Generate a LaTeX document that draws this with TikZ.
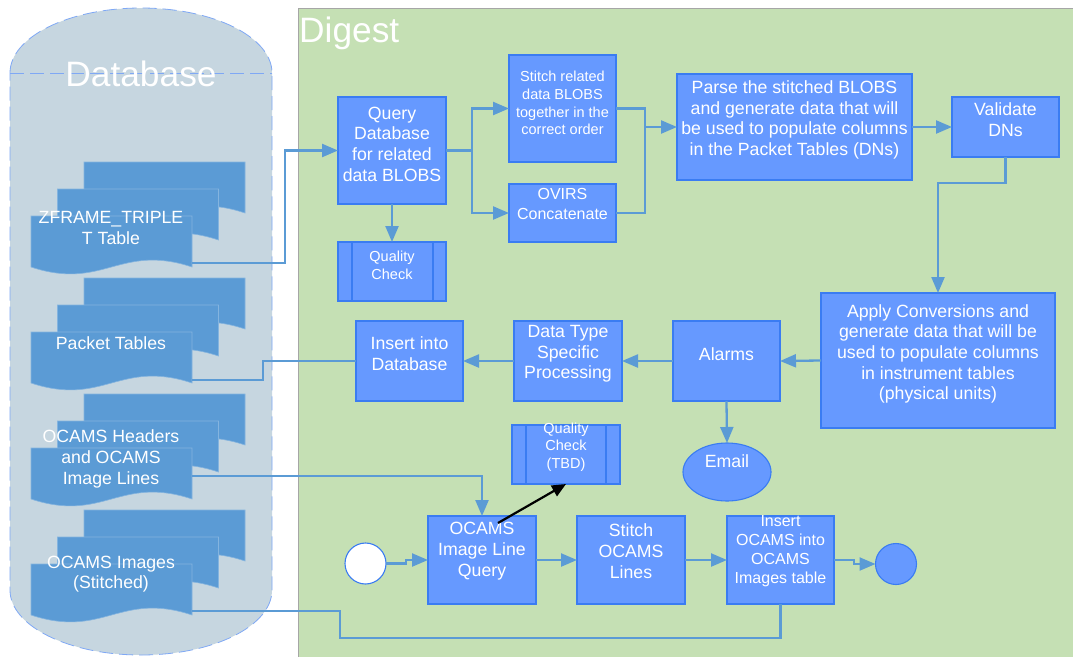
\documentclass[tikz,border=0pt]{standalone}
\usepackage{fontspec}
\setmainfont{Liberation Sans}
\usetikzlibrary{arrows.meta,shapes.geometric,calc}
\definecolor{panelgreen}{HTML}{C5E0B4}
\definecolor{dbfill}{HTML}{C6D6E0}
\definecolor{dbedge}{HTML}{7FA8F5}
\definecolor{docfill}{HTML}{5B9BD5}
\definecolor{boxfill}{HTML}{6699FF}
\definecolor{boxedge}{HTML}{3A7CF2}
\definecolor{conncol}{HTML}{5B9BD5}
\newcommand\myfA{\fontsize{17.7}{20.7}\selectfont}
\newcommand\myfB{\fontsize{16}{19.2}\selectfont}
\newcommand\myfC{\fontsize{14.5}{17.7}\selectfont}
\newcommand\myfT{\fontsize{35.3}{40}\selectfont}
\newcommand\mydoc[2]{\filldraw[docshape] (#1,#2) -- ++(161,0) -- ++(0,51) .. controls +(-72.5,-24) and +(72.5,24) .. ++(-161,0) -- cycle;}
\newcommand\mydocs[2]{\mydoc{#1+53}{#2-54}\mydoc{#1+26.5}{#2-27}\mydoc{#1}{#2}}
\begin{document}
\begin{tikzpicture}[x=1pt,y=-1pt,
  box/.style={draw=boxedge, fill=boxfill, line width=1.1pt, anchor=north west, inner sep=0pt, outer sep=0pt},
  txt/.style={text=white, align=center, inner sep=0pt},
  conn/.style={draw=conncol, line width=2.3pt},
  arr/.style={-{Triangle[length=16pt,width=13pt]}},
  docshape/.style={fill=docfill, draw=docfill!75!white, line width=0.6pt},
  predef/.style={draw=boxedge, line width=1.1pt}]
\useasboundingbox (0,0) rectangle (1073,656);
\clip (0,0) rectangle (1073,656);
\fill[white] (0,0) rectangle (1073,656);
% Digest panel
\filldraw[fill=panelgreen, draw=gray!70, line width=0.8pt] (298,8) rectangle (1085,670);
\node[txt, font=\myfT, anchor=base west] (dgt) at (299,42) {Digest};
% Database cylinder
\filldraw[fill=dbfill, draw=dbedge, line width=0.8pt, dash pattern=on 14pt off 6pt]
  (10,73) .. controls (10,37) and (68.6,8) .. (141,8) .. controls (213.4,8) and (272,37) .. (272,73)
  -- (272,590) .. controls (272,626) and (213.4,655) .. (141,655) .. controls (68.6,655) and (10,626) .. (10,590) -- cycle;
\draw[dbedge, line width=0.8pt, dash pattern=on 14pt off 6pt] (10,73) -- (272,73);
\node[txt, font=\myfT, anchor=base] (dbt) at (141,86) {Database};
% documents
\mydocs{31}{216}
\mydocs{31}{332}
\mydocs{31}{448}
\mydocs{31}{564}
\node[txt,font=\myfA] (zft) at (111,228) {ZFRAME\_TRIPLE\\T Table};
\node[txt,font=\myfA] (ptt) at (111,343) {Packet Tables};
\node[txt,font=\myfA] (oht) at (111,459) {OCAMS Headers\\and OCAMS\\Image Lines};
\node[txt,font=\myfA] (oit) at (111,574) {OCAMS Images\\(Stitched)};
\coordinate (zfR) at (192,263);
\coordinate (ptR) at (192,380);
\coordinate (ohR) at (192,476);
\coordinate (oiR) at (192,611);
% boxes
\node[box, minimum width=108, minimum height=107] (query) at (338,97) {};
\node[box, minimum width=108, minimum height=59] (qc1) at (338,242) {};
\draw[predef] (352,242) -- (352,301) (433,242) -- (433,301);
\node[box, minimum width=107, minimum height=107] (stitch) at (509,55) {};
\node[box, minimum width=107, minimum height=58] (ovirs) at (509,184) {};
\node[box, minimum width=235, minimum height=106] (parse) at (677,74) {};
\node[box, minimum width=107, minimum height=60] (validate) at (952,97) {};
\node[box, minimum width=234, minimum height=135] (apply) at (821,293) {};
\node[box, minimum width=107, minimum height=80] (alarms) at (673,321) {};
\node[box, minimum width=108, minimum height=80] (dtype) at (514,321) {};
\node[box, minimum width=107, minimum height=80] (insdb) at (356,321) {};
\node[box, minimum width=108, minimum height=59] (qc2) at (512,425) {};
\draw[predef] (526,425) -- (526,484) (606,425) -- (606,484);
\node[ellipse, draw=boxedge, fill=boxfill, line width=1.1pt, minimum width=88, minimum height=58, inner sep=0pt, outer sep=0pt] (email) at (727,472) {};
\node[box, minimum width=108, minimum height=88] (ocq) at (428,516) {};
\node[box, minimum width=108, minimum height=88] (sol) at (577,516) {};
\node[box, minimum width=107, minimum height=88] (ins) at (727,516) {};
\node[circle, draw=boxedge, fill=white, line width=1.1pt, minimum size=41, inner sep=0pt, outer sep=0pt] (start) at (365.5,563.5) {};
\node[circle, draw=boxedge, fill=boxfill, line width=1.1pt, minimum size=41, inner sep=0pt, outer sep=0pt] (end) at (896,564) {};
% texts
\node[txt,font=\myfA] (queryt) at (392,144) {Query\\Database\\for related\\data BLOBS};
\node[txt,font=\myfC] (qc1t) at (392,265) {Quality\\Check};
\node[txt,font=\myfC] (stitcht) at (562.5,103) {Stitch related\\data BLOBS\\together in the\\correct order};
\node[txt,font=\myfB] (ovirst) at (562.5,204) {OVIRS\\Concatenate};
\node[txt,font=\myfA] (parset) at (794.5,120) {Parse the stitched BLOBS\\and generate data that will\\be used to populate columns\\in the Packet Tables (DNs)};
\node[txt,font=\myfA] (validatet) at (1005.5,120) {Validate\\DNs};
\node[txt,font=\myfA] (applyt) at (938,354) {Apply Conversions and\\generate data that will be\\used to populate columns\\in instrument tables\\(physical units)};
\node[txt,font=\myfA] (alarmst) at (726.5,354) {Alarms};
\node[txt,font=\myfA] (dtypet) at (568,354) {Data Type\\Specific\\Processing};
\node[txt,font=\myfA] (insdbt) at (409.5,353.5) {Insert into\\Database};
\node[txt,font=\myfC] (qc2t) at (566,447) {Quality\\Check\\(TBD)};
\node[txt,font=\myfA] (emailt) at (727,461) {Email};
\node[txt,font=\myfA] (ocqt) at (482,551) {OCAMS\\Image Line\\Query};
\node[txt,font=\myfA] (solt) at (631,551) {Stitch\\OCAMS\\Lines};
\node[txt,font=\myfB] (inst) at (780.5,551) {Insert\\OCAMS into\\OCAMS\\Images table};
% connectors
\draw[conn,arr] (zfR) -- ++(93,0) |- (query.west);
\draw[conn,arr] (query.east) -- ++(26,0) coordinate (br1) |- (stitch.west);
\draw[conn,arr] (br1) |- (ovirs.west);
\draw[conn] (stitch.east) -- ++(29,0) coordinate (m1) -- (m1 |- ovirs.east) -- (ovirs.east);
\draw[conn,arr] (m1 |- parse.west) -- (parse.west);
\draw[conn,arr] (query.south) -- (qc1.north);
\draw[conn,arr] (parse.east) -- (validate.west);
\draw[conn,arr] (validate.south) -- ++(0,26) -| (apply.north);
\draw[conn,arr] (apply.west) -- (alarms.east);
\draw[conn,arr] (alarms.west) -- (dtype.east);
\draw[conn,arr] (dtype.west) -- (insdb.east);
\draw[conn] (insdb.west) -- ++(-93,0) |- (ptR);
\draw[conn,arr] (alarms.south) -- (email.north);
\draw[conn,arr] (ohR) -| (ocq.north);
\draw[conn,arr] (start.east) -- ++(20,0) |- (ocq.west);
\draw[conn,arr] (ocq.east) -- (sol.west);
\draw[conn,arr] (sol.east) -- (ins.west);
\draw[conn,arr] (ins.east) -- ++(20,0) |- (end.west);
\draw[conn] (ins.south) -- ++(0,34) -| ($(oiR)+(148,0)$) -- (oiR);
\draw[line width=2.2pt, black, -{Triangle[length=14pt,width=12pt]}] ($(ocq.north)+(16,7)$) -- (qc2.south);
\end{tikzpicture}
\end{document}
